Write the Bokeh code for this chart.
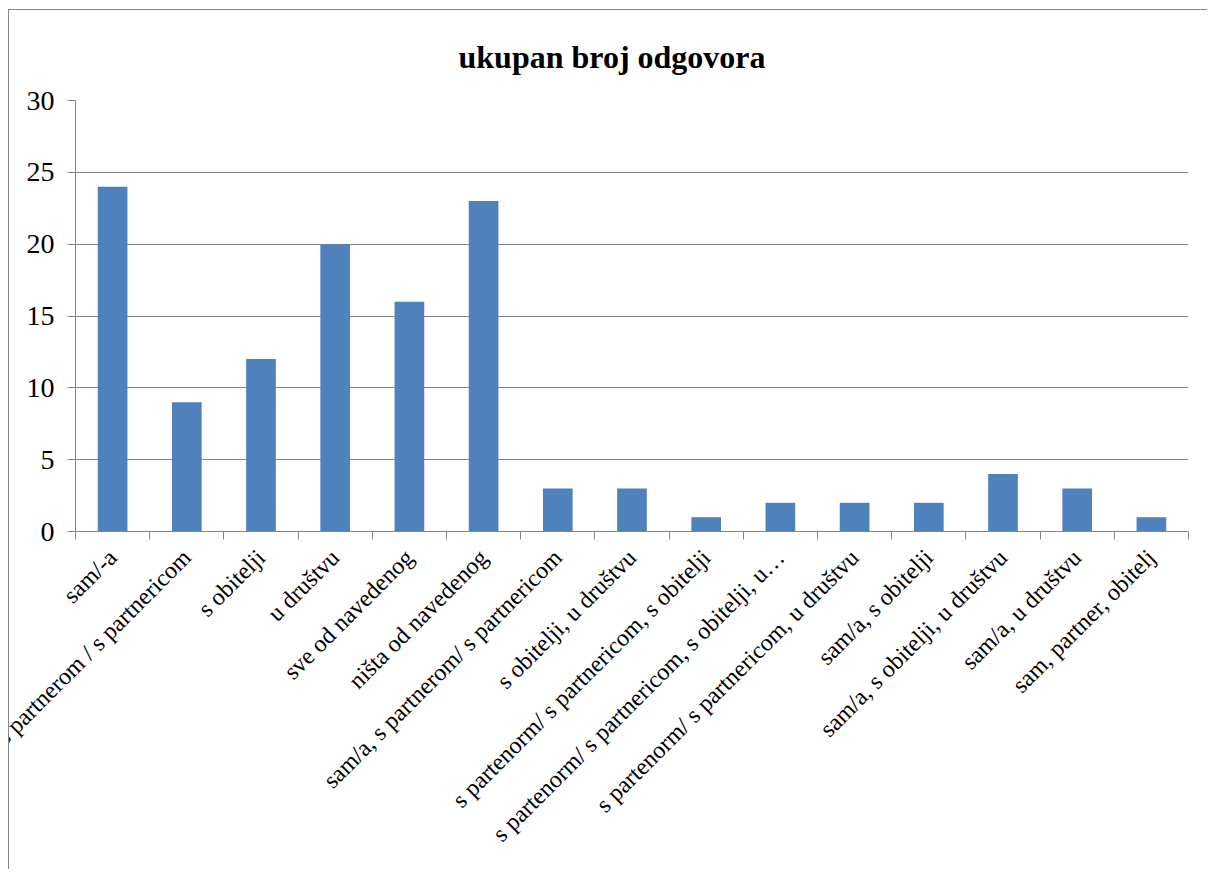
import math
from bokeh.plotting import figure
from bokeh.models import Range1d, FixedTicker, ColumnDataSource
from bokeh.embed import file_html
from bokeh.resources import INLINE

title_text = "ukupan broj odgovora"
categories = [
    "sam/-a",
    "s partnerom / s partnericom",
    "s obitelji",
    "u društvu",
    "sve od navedenog",
    "ništa od navedenog",
    "sam/a, s partnerom/ s partnericom",
    "s obitelji, u društvu",
    "s partenorm/ s partnericom, s obitelji",
    "s partenorm/ s partnericom, s obitelji, u…",
    "s partenorm/ s partnericom, u društvu",
    "sam/a, s obitelji",
    "sam/a, s obitelji, u društvu",
    "sam/a, u društvu",
    "sam, partner, obitelj",
]
values = [24, 9, 12, 20, 16, 23, 3, 3, 1, 2, 2, 2, 4, 3, 1]
y_ticks = [0, 5, 10, 15, 20, 25, 30]

GRAY = "#868686"
BAR = "#4F81BD"
FONT = "Liberation Serif"

n = len(categories)
x_centers = [i + 0.5 for i in range(n)]
x_bounds = list(range(n + 1))
source = ColumnDataSource(dict(x=x_centers, top=values, cat=categories))

p = figure(
    width=1199, height=860,
    x_range=Range1d(0, n), y_range=Range1d(y_ticks[0], y_ticks[-1]),
    output_backend="svg", toolbar_location=None,
    min_border_left=66, min_border_right=20, min_border_top=90, min_border_bottom=339,
    styles={"position": "relative", "left": "8px", "top": "9px",
            "border-top": "1px solid #868686", "border-left": "1px solid #868686"},
)
p.outline_line_color = None
p.background_fill_color = "white"
p.border_fill_color = "white"

p.vbar(x="x", top="top", width=0.4, source=source, fill_color=BAR, line_color=None)

# title
p.title.text = title_text
p.title.align = "left"
p.title.offset = 383
p.title.text_font = FONT
p.title.text_font_size = "32px"
p.title.text_font_style = "bold"
p.title.text_color = "black"
p.title.standoff = 52

# x axis
xa = p.xaxis[0]
xa.ticker = FixedTicker(ticks=x_centers, minor_ticks=x_bounds)
xa.major_label_overrides = {x: c for x, c in zip(x_centers, categories)}
xa.major_label_orientation = math.pi / 4
xa.major_tick_line_color = None
xa.major_tick_out = 0
xa.major_tick_in = 0
xa.minor_tick_line_color = GRAY
xa.minor_tick_out = 8
xa.minor_tick_in = 0
xa.axis_line_color = GRAY
xa.major_label_text_font = FONT
xa.major_label_text_font_size = "24px"
xa.major_label_text_color = "black"
xa.major_label_standoff = 14

# y axis
ya = p.yaxis[0]
ya.ticker = FixedTicker(ticks=y_ticks)
ya.minor_tick_line_color = None
ya.major_tick_line_color = GRAY
ya.major_tick_out = 8
ya.major_tick_in = 0
ya.axis_line_color = GRAY
ya.major_label_text_font = FONT
ya.major_label_text_font_size = "28px"
ya.major_label_text_color = "black"
ya.major_label_standoff = 13

p.xgrid.visible = False
p.ygrid.ticker = FixedTicker(ticks=y_ticks)
p.ygrid.grid_line_color = GRAY

open("out.html", "w").write(file_html(p, INLINE))
